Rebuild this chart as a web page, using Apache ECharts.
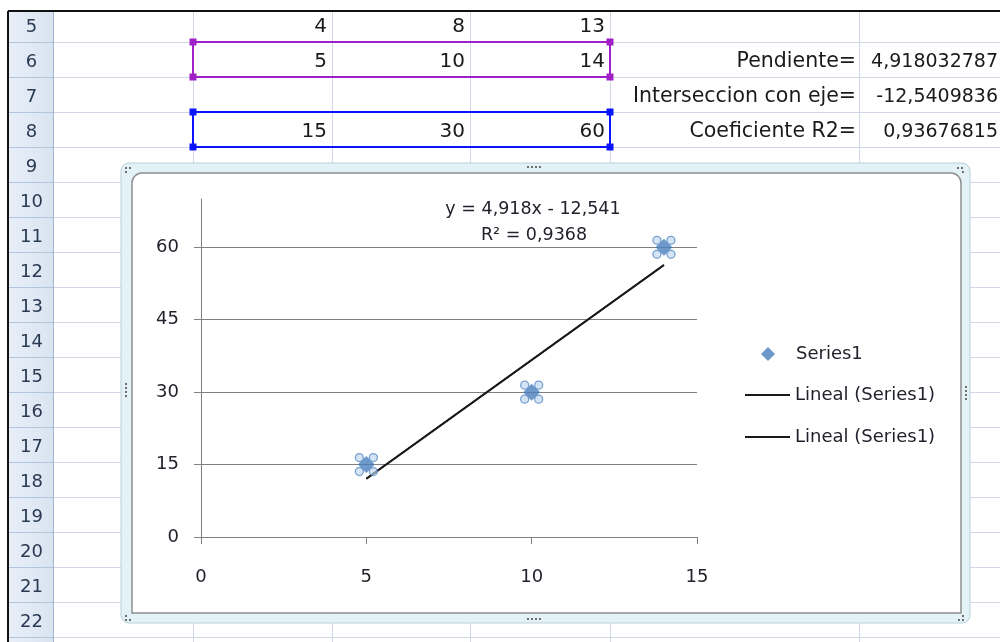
<!DOCTYPE html>
<html>
<head>
<meta charset="utf-8">
<script src="https://cdn.jsdelivr.net/npm/echarts@6/dist/echarts.min.js"></script>
<style>
html,body{margin:0;padding:0;background:#fff;}
#chart{width:1000px;height:642px;}
</style>
</head>
<body>
<div id="chart"></div>
<script>
// ---- data ----
const rowNumbers = [5, 6, 7, 8, 9, 10, 11, 12, 13, 14, 15, 16, 17, 18, 19, 20, 21, 22];
const row5Values = [4, 8, 13];
const xValues = [5, 10, 14];
const yValues = [15, 30, 60];
const statLabels = ['Pendiente=', 'Interseccion con eje=', 'Coeficiente R2='];
const statValues = ['4,918032787', '-12,5409836', '0,93676815'];
const trendX = [5, 14];
const trendY = [12.05, 56.31];
const xTicks = [0, 5, 10, 15];
const yTicks = [0, 15, 30, 45, 60];
const equationText = 'y = 4,918x - 12,541';
const r2Text = 'R\u00B2 = 0,9368';
const seriesName = 'Series1';
const trendName = 'Lineal (Series1)';

// ---- layout (pixels) ----
const FONT = '"DejaVu Sans", sans-serif';
const W = 1000, H = 642;
const headL = 8, headR = 53, topB = 11;
const rowTop0 = 7, rowH = 35;            // row 5 top (clipped by border)
const colLines = [193, 332, 470, 610, 859];
const cellRight = [332, 470, 610];
const textColor = '#22222c';

const g = [];
g.push({type: 'rect', shape: {x: 0, y: 0, width: W, height: H}, style: {fill: '#fff'}, z: 0, silent: true});
// spreadsheet gridlines
for (let i = 0; i < rowNumbers.length + 1; i++) {
  const y = rowTop0 + (i + 1) * rowH;
  if (y > H) break;
  g.push({type: 'line', shape: {x1: headR, y1: y + 0.5, x2: W, y2: y + 0.5}, style: {stroke: '#d0d7e5', lineWidth: 1}, z: 1, silent: true});
}
colLines.forEach(x => g.push({type: 'line', shape: {x1: x + 0.5, y1: topB, x2: x + 0.5, y2: H}, style: {stroke: '#d0d7e5', lineWidth: 1}, z: 1, silent: true}));
// row header
g.push({type: 'rect', shape: {x: headL, y: topB, width: headR - headL, height: H - topB},
  style: {fill: {type: 'linear', x: 0, y: 0, x2: 1, y2: 0, colorStops: [{offset: 0, color: '#e7eef8'}, {offset: 1, color: '#dae4f1'}]}}, z: 1, silent: true});
g.push({type: 'line', shape: {x1: headR + 0.5, y1: topB, x2: headR + 0.5, y2: H}, style: {stroke: '#9eb6ce', lineWidth: 1}, z: 2, silent: true});
rowNumbers.forEach((r, i) => {
  const top = rowTop0 + i * rowH;
  g.push({type: 'line', shape: {x1: headL, y1: top + rowH + 0.5, x2: headR, y2: top + rowH + 0.5}, style: {stroke: '#b3c6dc', lineWidth: 1}, z: 2, silent: true});
  g.push({type: 'text', x: (headL + headR) / 2 + 1, y: top + 20, style: {text: String(r), fill: '#2a3a52', font: '18px ' + FONT, textAlign: 'center', textVerticalAlign: 'middle'}, z: 3, silent: true});
});
// black outer border
g.push({type: 'line', shape: {x1: headL, y1: topB, x2: W, y2: topB}, style: {stroke: '#111', lineWidth: 2}, z: 3, silent: true});
g.push({type: 'line', shape: {x1: headL, y1: topB, x2: headL, y2: H}, style: {stroke: '#111', lineWidth: 2}, z: 3, silent: true});

// cell values
function cell(text, x, rowIdx, align, size) {
  const top = rowTop0 + rowIdx * rowH;
  g.push({type: 'text', x: x, y: top + 20, style: {text: String(text), fill: '#1a1a1a', font: size + 'px ' + FONT, textAlign: align, textVerticalAlign: 'middle'}, z: 3, silent: true});
}
row5Values.forEach((v, i) => cell(v, cellRight[i] - 5, 0, 'right', 20));
xValues.forEach((v, i) => cell(v, cellRight[i] - 5, 1, 'right', 20));
yValues.forEach((v, i) => cell(v, cellRight[i] - 5, 3, 'right', 20));
statLabels.forEach((t, i) => cell(t, 856, i + 1, 'right', 20.5));
statValues.forEach((t, i) => cell(t, 998, i + 1, 'right', 19));

// range boxes
function rangeBox(y1, y2, color) {
  const x1 = 193, x2 = 610;
  g.push({type: 'rect', shape: {x: x1, y: y1, width: x2 - x1, height: y2 - y1}, style: {fill: null, stroke: color, lineWidth: 2}, z: 4, silent: true});
  [[x1, y1], [x2, y1], [x1, y2], [x2, y2]].forEach(p =>
    g.push({type: 'rect', shape: {x: p[0] - 3.5, y: p[1] - 3.5, width: 7, height: 7}, style: {fill: color}, z: 4, silent: true}));
}
rangeBox(42, 77, '#a020c8');
rangeBox(112, 147, '#0a14ff');

// chart frame
g.push({type: 'rect', shape: {x: 121, y: 163, width: 849, height: 460, r: 8}, style: {fill: '#e2f2f6', stroke: '#b9d0d8', lineWidth: 1}, z: 5, silent: true});
g.push({type: 'rect', shape: {x: 132, y: 173, width: 829, height: 440, r: [10, 10, 0, 0]}, style: {fill: '#fff', stroke: '#8f8f8f', lineWidth: 1.5}, z: 6, silent: true});
// handle dots
function dots(pts) {
  pts.forEach(p => g.push({type: 'rect', shape: {x: p[0], y: p[1], width: 2, height: 2}, style: {fill: '#6d6d6d'}, z: 7, silent: true}));
}
dots([[125, 167], [129, 167], [125, 171]]);
dots([[957, 167], [961, 167], [962, 171]]);
dots([[125, 615], [125, 619], [129, 619]]);
dots([[962, 615], [958, 619], [962, 619]]);
dots([[527, 166], [531, 166], [535, 166], [539, 166]]);
dots([[527, 618], [531, 618], [535, 618], [539, 618]]);
dots([[125, 383], [125, 387], [125, 391], [125, 395]]);
dots([[965, 386], [965, 390], [965, 394], [965, 398]]);

// trendline equation
g.push({type: 'text', x: 533, y: 209, style: {text: equationText, fill: textColor, font: '17.5px ' + FONT, textAlign: 'center', textVerticalAlign: 'middle'}, z: 30, silent: true});
g.push({type: 'text', x: 534, y: 235, style: {text: r2Text, fill: textColor, font: '17.5px ' + FONT, textAlign: 'center', textVerticalAlign: 'middle'}, z: 30, silent: true});

const points = xValues.map((x, i) => [x, yValues[i]]);
const trend = trendX.map((x, i) => [x, trendY[i]]);

function handleSeries(ox, oy) {
  return {type: 'scatter', name: '_h', data: points, symbol: 'circle', symbolSize: 8,
    symbolOffset: [ox, oy], z: 22, silent: true,
    itemStyle: {color: 'rgba(190,212,238,0.8)', borderColor: '#5b8cc6', borderWidth: 1.3}};
}

const axisColor = '#808080';
const legendText = {fontSize: 18, color: textColor, fontFamily: FONT};
const option = {
  animation: false,
  backgroundColor: '#fff',
  textStyle: {fontFamily: FONT},
  graphic: {elements: g},
  grid: {left: 201, right: 303, top: 199, bottom: 105, containLabel: false, z: 10},
  xAxis: {
    type: 'value', min: 0, max: 15, interval: 5, z: 10,
    axisLine: {show: true, onZero: false, lineStyle: {color: axisColor, width: 1}},
    axisTick: {show: true, inside: false, length: 7, customValues: xTicks, lineStyle: {color: axisColor}},
    axisLabel: {margin: 31, customValues: xTicks, color: textColor, fontSize: 18, fontFamily: FONT},
    splitLine: {show: false}
  },
  yAxis: {
    type: 'value', min: 0, max: 70, interval: 15, z: 10,
    axisLine: {show: true, lineStyle: {color: axisColor, width: 1}},
    axisTick: {show: true, inside: false, length: 7, customValues: yTicks, lineStyle: {color: axisColor}},
    axisLabel: {margin: 22, customValues: yTicks, color: textColor, fontSize: 18, fontFamily: FONT},
    splitLine: {show: true, lineStyle: {color: axisColor, width: 1}}
  },
  legend: [
    {data: [{name: seriesName, icon: 'diamond'}], left: 761, top: 345, padding: 0, itemWidth: 14, itemHeight: 14, selectedMode: false,
      textStyle: Object.assign({padding: [0, 0, 0, 16]}, legendText), z: 30},
    {data: [{name: trendName, icon: 'rect'}], left: 745, top: 386, padding: 0, itemWidth: 45, itemHeight: 2, selectedMode: false,
      textStyle: legendText, z: 30},
    {data: [{name: trendName, icon: 'rect'}], left: 745, top: 428, padding: 0, itemWidth: 45, itemHeight: 2, selectedMode: false,
      textStyle: legendText, z: 30}
  ],
  series: [
    {type: 'line', name: trendName, data: trend, symbol: 'none', z: 20,
      lineStyle: {color: '#1a1a1a', width: 1.8}, itemStyle: {color: '#1a1a1a'}},
    {type: 'line', name: trendName, data: trend, symbol: 'none', z: 20,
      lineStyle: {color: '#1a1a1a', width: 1.8}, itemStyle: {color: '#1a1a1a'}},
    {type: 'scatter', name: seriesName, data: points, symbol: 'diamond', symbolSize: 17, z: 21,
      itemStyle: {color: '#4a7ebb'}},
    handleSeries(-7, -7), handleSeries(7, -7), handleSeries(-7, 7), handleSeries(7, 7)
  ]
};

const chart = echarts.init(document.getElementById('chart'), null, {renderer: 'canvas'});
chart.setOption(option);
</script>
</body>
</html>
